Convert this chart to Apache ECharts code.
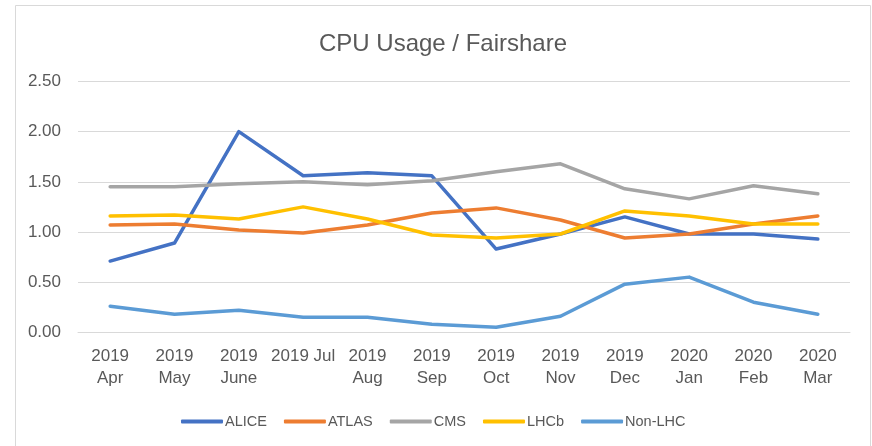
<!DOCTYPE html>
<html>
<head>
<meta charset="utf-8">
<script src="https://cdn.jsdelivr.net/npm/echarts@6/dist/echarts.min.js"></script>
<style>
html,body{margin:0;padding:0;background:#fff;}
#chart{width:872px;height:446px;}
</style>
</head>
<body>
<div id="chart"></div>
<script>
const categories = ["2019\nApr","2019\nMay","2019\nJune","2019 Jul","2019\nAug","2019\nSep","2019\nOct","2019\nNov","2019\nDec","2020\nJan","2020\nFeb","2020\nMar"];
const alice  = [0.71, 0.89, 2.00, 1.56, 1.59, 1.56, 0.83, 0.98, 1.15, 0.98, 0.98, 0.93];
const atlas  = [1.07, 1.08, 1.02, 0.99, 1.07, 1.19, 1.24, 1.12, 0.94, 0.98, 1.08, 1.16];
const cms    = [1.45, 1.45, 1.48, 1.50, 1.47, 1.51, 1.60, 1.68, 1.43, 1.33, 1.46, 1.38];
const lhcb   = [1.16, 1.17, 1.13, 1.25, 1.13, 0.97, 0.94, 0.98, 1.21, 1.16, 1.08, 1.08];
const nonlhc = [0.26, 0.18, 0.22, 0.15, 0.15, 0.08, 0.05, 0.16, 0.48, 0.55, 0.30, 0.18];
const seriesNames = ["ALICE","ATLAS","CMS","LHCb","Non-LHC"];
const seriesData = [alice, atlas, cms, lhcb, nonlhc];
const colors = ["#4472C4","#ED7D31","#A5A5A5","#FFC000","#5B9BD5"];

const FONT = "Liberation Sans, Arial, sans-serif";
const TXT = "#595959";

const chart = echarts.init(document.getElementById('chart'), null, {renderer:'canvas'});
chart.setOption({
  animation: false,
  backgroundColor: '#fff',
  color: colors,
  graphic: [{
    type: 'rect',
    shape: {x: 15.5, y: 5.5, width: 855, height: 460},
    style: {fill: 'none', stroke: '#d9d9d9', lineWidth: 1},
    silent: true,
    z: 0
  }],
  title: {
    text: 'CPU Usage / Fairshare',
    left: 438,
    textAlign: 'center',
    top: 27,
    textStyle: {fontFamily: FONT, fontSize: 24, fontWeight: 'normal', color: TXT}
  },
  grid: {left: 78, right: 22, top: 81.5, bottom: 113.7, containLabel: false},
  xAxis: {
    type: 'category',
    data: categories,
    boundaryGap: true,
    axisLine: {show: true, lineStyle: {color: '#d9d9d9', width: 1}},
    axisTick: {show: false},
    axisLabel: {interval: 0, margin: 13, fontFamily: FONT, fontSize: 17, color: TXT, lineHeight: 22, verticalAlign: 'top'}
  },
  yAxis: {
    type: 'value',
    min: 0, max: 2.5, interval: 0.5,
    axisLine: {show: false},
    axisTick: {show: false},
    splitLine: {lineStyle: {color: '#d9d9d9', width: 1}},
    axisLabel: {margin: 17, fontFamily: FONT, fontSize: 17, color: TXT, formatter: v => v.toFixed(2)}
  },
  legend: {
    left: 176,
    top: 409,
    icon: 'roundRect',
    itemWidth: 42,
    itemHeight: 4,
    itemGap: 17,
    textStyle: {fontFamily: FONT, fontSize: 14.5, color: TXT, padding: [0, 0, 0, -3]},
    data: seriesNames
  },
  series: seriesNames.map((n, i) => ({
    name: n,
    type: 'line',
    data: seriesData[i],
    showSymbol: false,
    symbol: 'none',
    lineStyle: {width: 3.5, color: colors[i], cap: 'round', join: 'round'},
    itemStyle: {color: colors[i]}
  }))
});
</script>
</body>
</html>
